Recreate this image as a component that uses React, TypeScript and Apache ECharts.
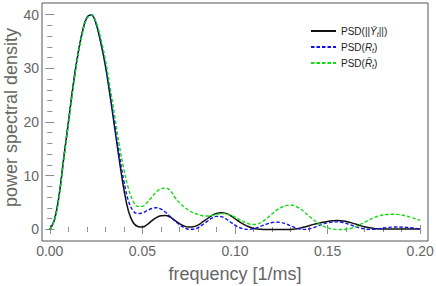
import React, { useEffect, useRef } from "react";
import * as echarts from "echarts";

const freq = [
  0, 0.0025, 0.005, 0.0075, 0.01, 0.0125, 0.015, 0.0175, 0.02, 0.0225,
  0.025, 0.0275, 0.03, 0.0325, 0.035, 0.0375, 0.04, 0.0425, 0.045, 0.0475,
  0.05, 0.0525, 0.055, 0.0575, 0.06, 0.0625, 0.065, 0.0675, 0.07, 0.0725,
  0.075, 0.0775, 0.08, 0.0825, 0.085, 0.0875, 0.09, 0.0925, 0.095, 0.0975,
  0.1, 0.1025, 0.105, 0.1075, 0.11, 0.1125, 0.115, 0.1175, 0.12, 0.1225,
  0.125, 0.1275, 0.13, 0.1325, 0.135, 0.1375, 0.14, 0.1425, 0.145, 0.1475,
  0.15, 0.1525, 0.155, 0.1575, 0.16, 0.1625, 0.165, 0.1675, 0.17, 0.1725,
  0.175, 0.1775, 0.18, 0.1825, 0.185, 0.1875, 0.19, 0.1925, 0.195, 0.1975,
  0.2,
];

const psdY = [
  0, 1.8, 6.3, 13.2, 19.8, 26.5, 32.2, 36.6, 39.4, 39.9,
  38.3, 34.8, 30.5, 25.0, 19.0, 13.0, 7.5, 3.4, 1.3, 0.55,
  0.45, 0.9, 1.6, 2.2, 2.55, 2.6, 2.3, 1.7, 1.1, 0.65,
  0.45, 0.5, 0.8, 1.4, 2.0, 2.6, 3.0, 3.1, 3.0, 2.6,
  2.0, 1.4, 0.9, 0.5, 0.2, 0.07, 0.02, 0, 0, 0,
  0, 0, 0.02, 0.1, 0.25, 0.45, 0.7, 0.95, 1.15, 1.35,
  1.5, 1.62, 1.68, 1.65, 1.5, 1.28, 1.02, 0.75, 0.5, 0.32,
  0.2, 0.14, 0.1, 0.09, 0.08, 0.08, 0.08, 0.08, 0.08, 0.08,
  0.08,
];

const psdR = [
  0, 1.8, 6.3, 13.2, 19.8, 26.5, 32.2, 36.6, 39.4, 39.9,
  38.3, 34.9, 30.7, 25.4, 19.6, 14.0, 9.0, 5.3, 3.5, 2.95,
  3.1, 3.5, 3.9, 4.05, 3.8, 3.2, 2.4, 1.6, 0.9, 0.35,
  0.05, 0.05, 0.35, 0.9, 1.5, 2.1, 2.45, 2.4, 2.0, 1.4,
  0.8, 0.35, 0.08, 0.02, 0.15, 0.4, 0.75, 1.05, 1.3, 1.38,
  1.3, 1.05, 0.7, 0.35, 0.1, 0.02, 0.1, 0.35, 0.7, 1.0,
  1.25, 1.38, 1.42, 1.35, 1.15, 0.85, 0.55, 0.28, 0.1, 0.03,
  0.05, 0.15, 0.28, 0.38, 0.45, 0.47, 0.45, 0.4, 0.32, 0.22,
  0.15,
];

const psdRbar = [
  0, 1.7, 6.0, 12.8, 19.4, 26.0, 31.9, 36.3, 39.2, 39.9,
  38.6, 35.6, 31.6, 26.6, 21.2, 15.8, 11.2, 7.6, 5.3, 4.3,
  4.3, 5.0, 6.0, 7.0, 7.6, 7.7, 7.3, 6.0, 5.0, 4.2,
  3.6, 3.1, 2.8, 2.55, 2.5, 2.6, 2.8, 2.95, 2.95, 2.7,
  2.3, 1.85, 1.4, 1.05, 0.92, 1.05, 1.5, 2.15, 2.9, 3.6,
  4.1, 4.45, 4.55, 4.35, 3.9, 3.25, 2.5, 1.8, 1.15, 0.65,
  0.3, 0.1, 0.02, 0.0, 0.05, 0.2, 0.5, 0.9, 1.35, 1.8,
  2.2, 2.5, 2.7, 2.8, 2.85, 2.82, 2.7, 2.5, 2.25, 2.0,
  1.7,
];

const xMajorTicks = [0, 0.05, 0.1, 0.15, 0.2];
const xMinorTicks = [0.01, 0.02, 0.03, 0.04, 0.06, 0.07, 0.08, 0.09, 0.11, 0.12, 0.13, 0.14, 0.16, 0.17, 0.18, 0.19];
const yMajorTicks = [0, 10, 20, 30, 40];
const yMinorTicks = [2, 4, 6, 8, 12, 14, 16, 18, 22, 24, 26, 28, 32, 34, 36, 38];

const seriesNames = ["PSD(||Ȳt||)", "PSD(Rt)", "PSD(R̄t)"];
const legendRich: Record<string, string> = {
  "PSD(||Ȳt||)": "{n|PSD(||}{i|Ȳ}{s|t}{n|||)}",
  "PSD(Rt)": "{n|PSD(}{i|R}{s|t}{n|)}",
  "PSD(R̄t)": "{n|PSD(}{i|R\u0304}{s|t}{n|)}",
};

const FONT = "Liberation Sans, Arial, sans-serif";
const TXT = "#666666";
const TICK = "#8a8a8a";

export default function App() {
  const ref = useRef<HTMLDivElement>(null);
  useEffect(() => {
    if (!ref.current) return;
    const chart = echarts.init(ref.current, undefined, { renderer: "svg" });
    const xMin = -0.0042;
    const xMax = 0.2042;
    const yMin = -2.14;
    const yMax = 42.14;
    const xAxisBase = (pos: string, ticks: number[], len: number, labels: boolean) => ({
      type: "value",
      position: pos,
      min: xMin,
      max: xMax,
      axisLine: { show: false },
      splitLine: { show: false },
      axisTick: { show: true, inside: true, length: len, customValues: ticks, lineStyle: { color: TICK, width: 1 } },
      axisLabel: labels
        ? {
            show: true,
            customValues: ticks,
            margin: 3,
            color: TXT,
            fontSize: 14,
            fontFamily: FONT,
            formatter: (v: number) => v.toFixed(2),
          }
        : { show: false },
    });
    const yAxisBase = (pos: string, ticks: number[], len: number, labels: boolean) => ({
      type: "value",
      position: pos,
      min: yMin,
      max: yMax,
      axisLine: { show: false },
      splitLine: { show: false },
      axisTick: { show: true, inside: true, length: len, customValues: ticks, lineStyle: { color: TICK, width: 1 } },
      axisLabel: labels
        ? {
            show: true,
            customValues: ticks,
            margin: 3,
            color: TXT,
            fontSize: 14,
            fontFamily: FONT,
            formatter: (v: number) => String(v),
          }
        : { show: false },
    });
    const makeData = (vals: number[]) => freq.map((f, i) => [f, vals[i]]);
    chart.setOption({
      animation: false,
      backgroundColor: "#ffffff",
      grid: {
        left: 42,
        right: 8,
        top: 3,
        bottom: 45,
        containLabel: false,
        outerBoundsMode: "none",
        show: true,
        borderColor: "#555555",
        borderWidth: 1,
        backgroundColor: "transparent",
      },
      xAxis: [
        {
          ...xAxisBase("bottom", xMajorTicks, 4.5, true),
          name: "frequency [1/ms]",
          nameLocation: "middle",
          nameGap: 24,
          nameMoveOverlap: false,
          nameTextStyle: { color: TXT, fontSize: 18, fontFamily: FONT },
        },
        xAxisBase("bottom", xMinorTicks, 2.5, false),
        xAxisBase("top", xMajorTicks, 4.5, false),
        xAxisBase("top", xMinorTicks, 2.5, false),
      ],
      yAxis: [
        {
          ...yAxisBase("left", yMajorTicks, 4.5, true),
          name: "power spectral density",
          nameLocation: "middle",
          nameGap: 22,
          nameMoveOverlap: false,
          nameTextStyle: { color: TXT, fontSize: 18, fontFamily: FONT, padding: [0, 0, 0, 9] },
        },
        yAxisBase("left", yMinorTicks, 2.5, false),
        yAxisBase("right", yMajorTicks, 4.5, false),
        yAxisBase("right", yMinorTicks, 2.5, false),
      ],
      legend: {
        orient: "vertical",
        left: 310,
        top: 26,
        padding: 0,
        itemWidth: 25,
        itemHeight: 10,
        itemGap: 4,
        data: seriesNames,
        itemStyle: { color: "rgba(0,0,0,0)", borderColor: "rgba(0,0,0,0)", borderWidth: 0 },
        formatter: (name: string) => legendRich[name] || name,
        textStyle: {
          fontSize: 10,
          fontFamily: FONT,
          color: "#222222",
          rich: {
            n: { fontSize: 10, fontFamily: FONT, color: "#222222", lineHeight: 14, verticalAlign: "middle" },
            i: { fontSize: 10, fontFamily: FONT, fontStyle: "italic", color: "#222222", lineHeight: 14, verticalAlign: "middle" },
            s: { fontSize: 7, fontFamily: FONT, fontStyle: "italic", color: "#222222", lineHeight: 14, verticalAlign: "bottom" },
          },
        },
      },
      series: [
        {
          name: seriesNames[0],
          type: "line",
          data: makeData(psdY),
          smooth: 0.4,
          symbol: "none",
          lineStyle: { color: "#111111", width: 1.5, type: "solid" },
          itemStyle: { color: "#111111" },
          z: 2,
        },
        {
          name: seriesNames[1],
          type: "line",
          data: makeData(psdR),
          smooth: 0.4,
          symbol: "none",
          lineStyle: { color: "#1010ee", width: 1.4, type: [3.5, 2] },
          itemStyle: { color: "#1010ee" },
          z: 3,
        },
        {
          name: seriesNames[2],
          type: "line",
          data: makeData(psdRbar),
          smooth: 0.4,
          symbol: "none",
          lineStyle: { color: "#11dd11", width: 1.4, type: [3.5, 2] },
          itemStyle: { color: "#11dd11" },
          z: 4,
        },
      ],
    });
    return () => chart.dispose();
  }, []);
  return (
    <div
      ref={ref}
      style={{ position: "fixed", left: 0, top: 0, width: 436, height: 286, background: "#fff" }}
    />
  );
}
